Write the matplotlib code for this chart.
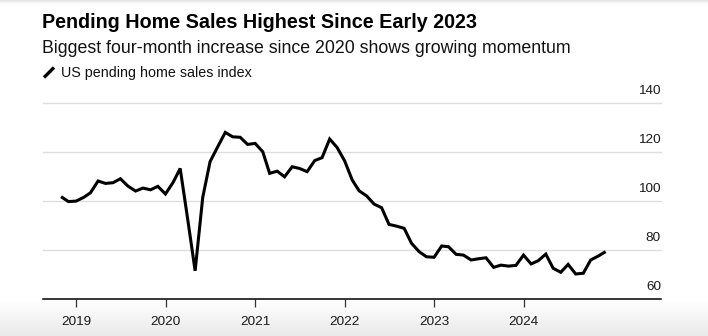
import matplotlib
matplotlib.use("Agg")
import matplotlib.pyplot as plt
import matplotlib.transforms as mtransforms
from matplotlib.lines import Line2D
from matplotlib.colors import LinearSegmentedColormap
import numpy as np
import pandas as pd

# ---- data (US pending home sales index, monthly, Oct 2018 - Nov 2024) ----
start_month = "2018-10-31"
index_values = [
    101.7, 99.7, 99.9,                                                     # 2018 Oct-Dec
    101.4, 103.3, 108.1, 107.1, 107.4, 109.0, 106.0, 104.0, 105.2, 104.5, 105.9, 102.8,  # 2019
    107.5, 113.2, 92.3, 71.5, 101.4, 116.0, 122.0, 127.9, 126.1, 125.9, 123.0, 123.4,    # 2020
    120.0, 111.2, 112.1, 109.8, 113.9, 113.2, 111.9, 116.4, 117.6, 125.2, 121.8, 116.3,  # 2021
    108.5, 104.1, 102.0, 98.7, 97.2, 90.4, 89.7, 88.8, 82.7, 79.3, 77.2, 77.0,           # 2022
    81.6, 81.3, 78.2, 77.9, 75.9, 76.4, 76.8, 72.9, 73.8, 73.4, 73.7, 77.9,              # 2023
    74.3, 75.6, 78.3, 72.5, 70.9, 74.1, 70.2, 70.5, 75.9, 77.5, 79.3,                    # 2024
]
year_ticks = [2019, 2020, 2021, 2022, 2023, 2024]
y_ticks = [60, 80, 100, 120, 140]

title = "Pending Home Sales Highest Since Early 2023"
subtitle = "Biggest four-month increase since 2020 shows growing momentum"
legend_label = "US pending home sales index"

dates = pd.date_range(start=start_month, periods=len(index_values), freq="ME")

W, H = 708, 336
plt.rcParams["font.family"] = ["Liberation Sans", "DejaVu Sans"]
fig = plt.figure(figsize=(W / 100, H / 100), dpi=100)
fig.patch.set_facecolor("white")

def fx(x):
    return x / W

def fy(y):
    return 1 - y / H

# bottom gradient band
gax = fig.add_axes([0, 0, 1, fy(300)], zorder=-5)
grad = np.linspace(0, 1, 100).reshape(-1, 1)
cmap = LinearSegmentedColormap.from_list("g", ["#e9e9e9", "#ffffff"])
gax.imshow(grad, aspect="auto", cmap=cmap, origin="lower", extent=[0, 1, 0, 1])
gax.set_axis_off()

# top thin shadow line
tax = fig.add_axes([0, fy(4), 1, 4 / H], zorder=-5)
grad2 = np.linspace(0, 1, 20).reshape(-1, 1)
cmap2 = LinearSegmentedColormap.from_list("g2", ["#ffffff", "#e2e2e2"])
tax.imshow(grad2, aspect="auto", cmap=cmap2, origin="lower", extent=[0, 1, 0, 1])
tax.set_axis_off()

# main axes
left, right, bottom, top = 42.7, 661, 299, 102.7
ax = fig.add_axes([fx(left), fy(bottom), fx(right) - fx(left), fy(top) - fy(bottom)])
ax.set_facecolor("none")

ax.plot(dates, index_values, color="black", lw=2.2, solid_joinstyle="miter",
        solid_capstyle="butt", zorder=3)

ax.set_ylim(60, 140)
ax.set_xlim(pd.Timestamp("2018-08-17"), pd.Timestamp("2025-07-14"))

for v in y_ticks[1:]:
    ax.axhline(v, color="#dedede", lw=1.0, zorder=1, clip_on=False)

for s in ["top", "right", "left"]:
    ax.spines[s].set_visible(False)
ax.spines["bottom"].set_color("black")
ax.spines["bottom"].set_linewidth(1.1)
ax.spines["bottom"].set_zorder(4)

ax.set_yticks([])
ax.set_xticks([pd.Timestamp(f"{y}-01-01") for y in year_ticks])
ax.set_xticklabels([str(y) for y in year_ticks], fontsize=9.7, color="#1a1a1a")
ax.tick_params(axis="x", length=5.5, width=0.9, color="#333333", pad=7)

# y labels above gridlines on the right
offset = mtransforms.ScaledTranslation(0, 9 / 100, fig.dpi_scale_trans)
trans = mtransforms.blended_transform_factory(ax.transAxes, ax.transData) + offset
for v in y_ticks:
    ax.text(1.0, v, str(v), transform=trans, ha="right", va="baseline",
            fontsize=9.7, color="#1a1a1a")

# titles
fig.text(fx(42), fy(27.5), title, fontsize=14.2, fontweight="bold",
         ha="left", va="baseline", color="black")
fig.text(fx(42), fy(53), subtitle, fontsize=12.8, ha="left", va="baseline",
         color="#111111")

# legend
fig.add_artist(Line2D([fx(44), fx(54)], [fy(77.5), fy(67.5)], color="black",
                      lw=2.4, solid_capstyle="butt", transform=fig.transFigure))
fig.text(fx(61), fy(76.5), legend_label, fontsize=10.3, ha="left", va="baseline",
         color="#111111")

fig.savefig("out.png", dpi=100, facecolor="white")
